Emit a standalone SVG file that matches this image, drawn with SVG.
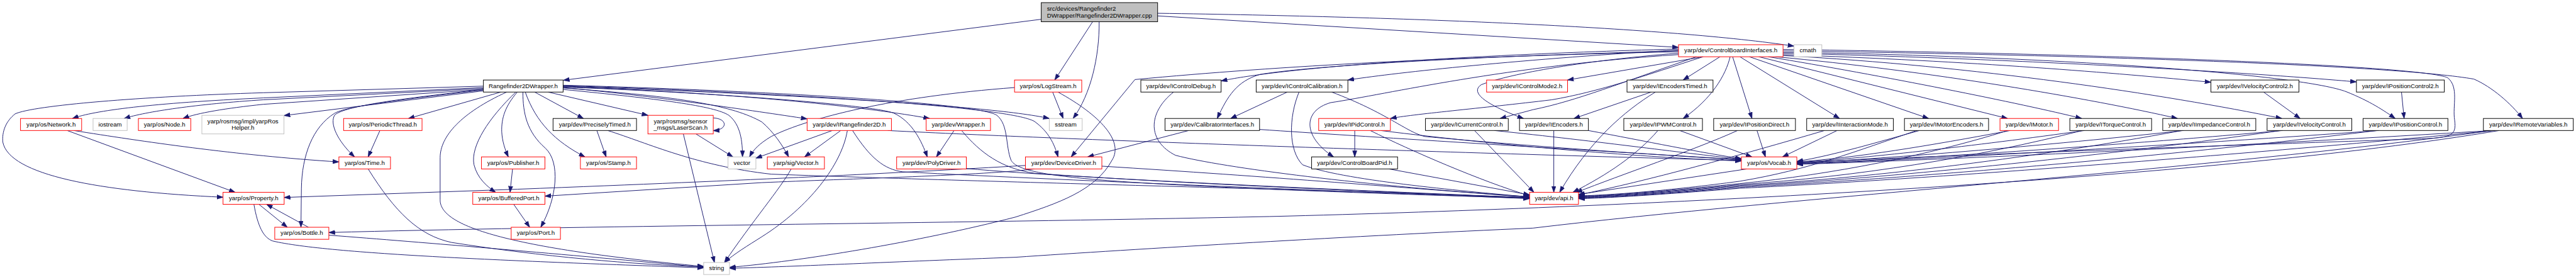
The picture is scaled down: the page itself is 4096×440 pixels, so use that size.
<svg xmlns="http://www.w3.org/2000/svg" width="4096" height="440" viewBox="0 0 4096 440">
<style>
.e path{fill:none;stroke:#191970;stroke-width:1.3;marker-end:url(#a)}
.n rect{fill:#fff;stroke-width:1.3}
.r rect{stroke:#ff0000}
.k rect{stroke:#000}
.g rect{stroke:#bfbfbf}
.s rect{fill:#bfbfbf;stroke:#000}
.s text{text-anchor:start}
text{font-family:"Liberation Sans",Arial,Helvetica,sans-serif;font-size:13px;text-anchor:middle;fill:#000}
</style>
<defs>
<marker id="a" viewBox="0 0 13 10" refX="13" refY="5" markerWidth="13" markerHeight="10" orient="auto" markerUnits="userSpaceOnUse">
<path d="M0,0.5 L13,5 L0,9.5 z" fill="#191970" stroke="#191970" stroke-width="1"/>
</marker>
</defs>
<rect width="4096" height="440" fill="#fff"/>
<g transform="scale(0.7477)">
<g id="connectors" class="e">
<path d="M2214,41 L1198,170.5"/>
<path d="M2323.6,46.2 L2243,170"/>
<path d="M2337.5,46.2 C2338,120 2320,200 2282,251.7"/>
<path d="M2461.8,33.8 L3569.6,100.7"/>
<path d="M2461.8,28.2 C3000,36 3550,58 3815,98"/>
<path d="M1028,183 L560,197 C300,205 70,224 32,242 C12,258 4,280 6,302 C20,372 210,407 474.3,419"/>
<path d="M1028,186 L560,208 C320,219 200,235 154,251.7"/>
<path d="M1028,188 L560,212 C420,221 310,237 264,251.7"/>
<path d="M1028,190 L560,221.6 C480,230 420,240 389,251.7"/>
<path d="M1028,193 L604,245.5"/>
<path d="M1028,190 C850,210 735,225 712,244 C700,262 718,300 754,333.3"/>
<path d="M1028,191 C850,212 735,226 711,241 C665,270 642,330 641,400 L640,482.8"/>
<path d="M1065,195.6 L868.6,251.7"/>
<path d="M1077.5,195.6 C980,240 936,290 936,335 L936,425 C936,475 1050,525 1496.4,566"/>
<path d="M1097,195.6 C1040,250 1000,310 1008,350 C1015,378 1035,396 1054,408.5"/>
<path d="M1100,195.6 C1075,225 1066,250 1067,280 C1068,300 1074,318 1081,333.3"/>
<path d="M1112,195.6 C1112,240 1120,280 1160,315 C1192,345 1185,420 1150,482.8"/>
<path d="M1117,195.6 C1140,260 1180,300 1244,333.3"/>
<path d="M1137,195.6 L1240.7,251.7"/>
<path d="M1165.7,195.6 L1378,245"/>
<path d="M1197.5,190 C1400,210 1520,225 1550,245 C1575,265 1579,300 1579,333.3"/>
<path d="M1197.5,187 C1450,205 1560,225 1620,259 C1645,280 1665,310 1677,333.3"/>
<path d="M1197.5,186 C1400,205 1600,235 1716.4,252.5"/>
<path d="M1197.5,184 C1500,195 1800,220 1977,251.7"/>
<path d="M1197.5,185 C1500,196 1850,222 1900,240 C1940,258 1960,300 1972,333.3"/>
<path d="M1197.5,183 C1600,198 2100,222 2231.4,251.7"/>
<path d="M1197.5,182 C1700,198 2150,228 2200,258 C2230,280 2242,305 2250,333.3"/>
<path d="M1197.5,181 C1700,195 2090,222 2120,245 C2145,265 2138,310 2150,340 C2165,372 2300,385 2700,402 C2950,412 3150,418 3252.9,421"/>
<path d="M2238.6,195.6 L2261,251.7"/>
<path d="M2250,195.6 C2340,245 2390,300 2365,340 C2330,405 2250,432 2160,461 C1950,515 1700,555 1551.4,568"/>
<path d="M2157.5,186 C1900,205 1720,250 1640,290 C1615,305 1602,318 1594,333.3"/>
<path d="M1770,277.3 L1607.5,336"/>
<path d="M1787.9,277.3 L1711,333.3"/>
<path d="M1802,277.3 C1790,350 1720,440 1620,503 C1590,522 1560,540 1541,557.6"/>
<path d="M1813,277.3 C1850,335 1880,360 1920,365 C2300,385 2900,408 3252.9,422"/>
<path d="M1887.9,277.3 C2300,298 3000,322 3703.2,341"/>
<path d="M2028.9,277.3 L1991.4,333.3"/>
<path d="M2045,277.3 C2085,325 2130,358 2200,368 C2500,390 3000,410 3252.9,421"/>
<path d="M2055,358 C2300,380 2900,405 3252.9,420"/>
<path d="M2180.7,351.5 C1900,368 1620,382 1100,402 L604.3,419.5"/>
<path d="M2200,358.9 C2100,372 1800,380 1620,388 L1158.9,416.7"/>
<path d="M2343.2,353 C2700,375 3000,400 3252.9,419"/>
<path d="M2527.9,277.3 L2313,333.3"/>
<path d="M2678.6,275 C2900,290 3300,315 3703.2,339"/>
<path d="M2495.7,195.6 C2440,240 2440,300 2500,330 C2600,356 2900,395 3252.9,418"/>
<path d="M2737.5,195.6 L2617,251.7"/>
<path d="M2762.5,195.6 C2740,250 2740,320 2770,350 C2850,382 3100,405 3252.9,418.5"/>
<path d="M2832,195.6 C2950,240 2990,280 3030,290 C3300,315 3550,330 3703.2,340"/>
<path d="M2881,277.3 L2881,333.3"/>
<path d="M2914,277.3 C3000,320 3150,385 3252.9,416"/>
<path d="M2936,277.3 C3200,310 3500,335 3703.2,342"/>
<path d="M2953.6,358.9 L3252.9,414"/>
<path d="M3135.7,277.3 L3262,408.5"/>
<path d="M3178,277.3 C3400,300 3600,328 3703.2,338"/>
<path d="M3511.4,195.6 L3347,251.7"/>
<path d="M3520.4,195.6 C3454,236 3380,300 3316.8,408.5"/>
<path d="M3304.3,277.3 L3304.3,408.5"/>
<path d="M3377.9,277.3 C3500,300 3620,325 3703.2,337"/>
<path d="M3525.7,277.3 C3480,330 3420,370 3345,408.5"/>
<path d="M3572,277.3 L3725.7,333.3"/>
<path d="M3695,277.3 C3600,320 3450,370 3352,409"/>
<path d="M3736.4,277.3 L3754.3,333.3"/>
<path d="M3715,358.9 L3357,413"/>
<path d="M3906.8,277.3 L3790.7,333.3"/>
<path d="M3880,277.3 C3700,330 3500,385 3357,414"/>
<path d="M4081.8,277.3 C4000,300 3900,330 3821.1,343"/>
<path d="M4076,277.3 C3950,320 3850,360 3700,385 C3550,405 3420,415 3356.8,416"/>
<path d="M4275,277.3 C4100,310 3950,335 3821.1,344"/>
<path d="M4270,277.3 C4100,330 3900,370 3700,390 C3550,405 3420,416 3356.8,417"/>
<path d="M4432.8,277.3 C4200,310 3950,338 3821.1,345"/>
<path d="M4428,277.3 C4200,335 3950,375 3700,392 C3550,407 3420,417 3356.8,418"/>
<path d="M4643.7,277.3 C4300,315 3950,341 3821.1,346"/>
<path d="M4640,277.3 C4300,340 3950,380 3700,394 C3550,408 3420,418 3356.8,419"/>
<path d="M4854.5,277.3 C4400,318 3950,344 3821.1,347"/>
<path d="M4850,277.3 C4400,342 3950,382 3700,396 C3550,410 3420,419 3356.8,420"/>
<path d="M5059,277.3 C4500,318 3950,345 3821.1,348"/>
<path d="M5055,277.3 C4500,345 3950,385 3700,398 C3550,411 3420,420 3356.8,421"/>
<path d="M5300,277.3 C4600,320 3950,346 3821.1,349"/>
<path d="M5305,277.3 C4600,345 3950,388 3700,400 C3550,412 3420,421 3356.8,422"/>
<path d="M5314.8,277.3 C4700,380 3500,440 2700,460 C2000,475 1200,480 699.3,494"/>
<path d="M5300,277.3 C4700,360 3800,420 3260,484.6 C2900,500 2400,530 2160,546.5 C1900,556 1700,566 1551.4,570"/>
<path d="M4813.8,195.6 L4891.5,251.7"/>
<path d="M5107,195.6 L5112.6,251.7"/>
<path d="M142.9,277.3 L500,408.5"/>
<path d="M157,277.3 C300,300 500,330 720.7,344"/>
<path d="M807.9,277.3 L782.9,333.3"/>
<path d="M782.9,358.9 C840,450 890,500 960,515 C1150,545 1350,562 1496.4,567"/>
<path d="M1090,358.9 L1084.6,408.5"/>
<path d="M1092.5,434.1 L1126.4,482.8"/>
<path d="M550.7,434.1 L611,482.8"/>
<path d="M656,482.8 L566.8,434.1"/>
<path d="M540,434.1 C548,480 560,505 580,512 C700,540 1100,555 1496.4,569"/>
<path d="M699.3,499.6 C900,515 1200,540 1496.4,568"/>
<path d="M1269.3,277.3 L1289,333.3"/>
<path d="M1292.5,277.3 C1380,305 1480,352 1640,370 C2200,390 2900,405 3252.9,420"/>
<path d="M1480,284.5 L1558.6,333.3"/>
<path d="M1453.2,284.5 L1519.3,557.6"/>
<path d="M1516.8,250.5 C1548,252 1548,276 1516.8,277.5"/>
<path d="M1682.5,358.9 C1660,400 1600,470 1540.7,557.6"/>
<path d="M3569.6,104 C3000,120 2700,150 2596.8,172"/>
<path d="M3569.6,106 C3200,128 2950,157 2866.4,170"/>
<path d="M3569.6,108 C3000,124 2760,145 2680,158 C2630,172 2610,205 2588.6,251.7"/>
<path d="M3569.6,110 C3100,120 2720,140 2413.6,169 L2277.9,333.3"/>
<path d="M3622,120.5 L3333.6,170"/>
<path d="M3622,120.5 C3500,160 3400,195 3300,212 C3150,230 3000,243 2956.8,251.7"/>
<path d="M3608,120.5 C3450,175 3350,215 3260,233 L3190,251.7"/>
<path d="M3569.6,113 C3350,130 3200,160 3150,180 C3120,200 3180,230 3240,251.7"/>
<path d="M3569.6,116 C3200,140 2950,200 2830,218 C2770,235 2770,290 2836,333.3"/>
<path d="M3657.9,120.5 L3579.3,170"/>
<path d="M3679.3,120.5 C3670,160 3640,210 3579.3,251.7"/>
<path d="M3684.6,120.5 L3725.7,251.7"/>
<path d="M3700,120.5 L3912,251.7"/>
<path d="M3720,120.5 L4101.4,251.7"/>
<path d="M3740,120.5 L4269.3,251.7"/>
<path d="M3760,120.5 C4000,160 4300,220 4427,251.7"/>
<path d="M3775,120.5 C4100,150 4450,210 4630.7,251.7"/>
<path d="M3791.8,118 C4200,140 4600,200 4852.7,251.7"/>
<path d="M3791.8,116 C4200,130 4500,155 4701.7,174.7"/>
<path d="M3791.8,113 C4300,125 4800,155 5011.2,174"/>
<path d="M3791.8,111 C4400,120 4900,160 4990,195 C5040,215 5070,235 5093.6,251.7"/>
<path d="M3791.8,108 C4500,118 5100,140 5261,168 C5300,185 5340,220 5364.4,251.7"/>
<path d="M3791.8,105 C4500,115 5150,140 5205,165 C5230,185 5215,225 5220,255 C5225,290 5210,292 5150,295 C4700,310 4000,335 3821.1,346"/>
</g>
<g id="n_src" class="n s"><rect x="2214.3" y="5.6" width="247.5" height="40.6"/><text x="2226.4" y="23">src/devices/Rangefinder2</text><text x="2226.4" y="37">DWrapper/Rangefinder2DWrapper.cpp</text></g>
<g id="n_r2w" class="n k"><rect x="1028" y="170" width="169.5" height="25.6"/><text x="1112.75" y="186.6">Rangefinder2DWrapper.h</text></g>
<g id="n_cbi" class="n r"><rect x="3569.6" y="95" width="222.2" height="25.6"/><text x="3680.7" y="111.6">yarp/dev/ControlBoardInterfaces.h</text></g>
<g id="n_cmath" class="n g"><rect x="3815" y="95" width="59.3" height="25.6"/><text x="3844.65" y="111.6">cmath</text></g>
<g id="n_logstream" class="n r"><rect x="2157.5" y="170" width="142.9" height="25.6"/><text x="2228.95" y="186.6">yarp/os/LogStream.h</text></g>
<g id="n_ictrldebug" class="n k"><rect x="2426.1" y="170" width="170.7" height="25.6"/><text x="2511.45" y="186.6">yarp/dev/IControlDebug.h</text></g>
<g id="n_ictrlcalib" class="n k"><rect x="2671.4" y="170" width="195" height="25.6"/><text x="2768.9" y="186.6">yarp/dev/IControlCalibration.h</text></g>
<g id="n_ictrlmode2" class="n r"><rect x="3161.4" y="170" width="172.2" height="25.6"/><text x="3247.5" y="186.6">yarp/dev/IControlMode2.h</text></g>
<g id="n_ienctimed" class="n k"><rect x="3460" y="170" width="182.9" height="25.6"/><text x="3551.45" y="186.6">yarp/dev/IEncodersTimed.h</text></g>
<g id="n_ivel2" class="n k"><rect x="4701.7" y="170" width="187.2" height="25.6"/><text x="4795.3" y="186.6">yarp/dev/IVelocityControl2.h</text></g>
<g id="n_ipos2" class="n k"><rect x="5011.2" y="170" width="186.9" height="25.6"/><text x="5104.65" y="186.6">yarp/dev/IPositionControl2.h</text></g>
<g id="n_network" class="n r"><rect x="43.6" y="251.7" width="130" height="25.6"/><text x="108.6" y="268.3">yarp/os/Network.h</text></g>
<g id="n_iostream" class="n g"><rect x="197.9" y="251.7" width="72.5" height="25.6"/><text x="234.15" y="268.3">iostream</text></g>
<g id="n_node" class="n r"><rect x="294.3" y="251.7" width="111.4" height="25.6"/><text x="350" y="268.3">yarp/os/Node.h</text></g>
<g id="n_roshelper" class="n g"><rect x="429.3" y="245" width="174.6" height="39.5"/><text x="516.6" y="261.8">yarp/rosmsg/impl/yarpRos</text><text x="516.6" y="275.8">Helper.h</text></g>
<g id="n_periodicthread" class="n r"><rect x="730.7" y="251.7" width="166.8" height="25.6"/><text x="814.1" y="268.3">yarp/os/PeriodicThread.h</text></g>
<g id="n_preciselytimed" class="n k"><rect x="1176.1" y="251.7" width="177.5" height="25.6"/><text x="1264.85" y="268.3">yarp/dev/PreciselyTimed.h</text></g>
<g id="n_laserscan" class="n r"><rect x="1377.9" y="245" width="138.9" height="39.5"/><text x="1447.35" y="261.8">yarp/rosmsg/sensor</text><text x="1447.35" y="275.8">_msgs/LaserScan.h</text></g>
<g id="n_irangefinder2d" class="n r"><rect x="1716.4" y="251.7" width="179.3" height="25.6"/><text x="1806.05" y="268.3">yarp/dev/IRangefinder2D.h</text></g>
<g id="n_wrapper" class="n r"><rect x="1969.6" y="251.7" width="136.8" height="25.6"/><text x="2038" y="268.3">yarp/dev/Wrapper.h</text></g>
<g id="n_sstream" class="n g"><rect x="2231.4" y="251.7" width="70" height="25.6"/><text x="2266.4" y="268.3">sstream</text></g>
<g id="n_calibif" class="n k"><rect x="2477.5" y="251.7" width="201.1" height="25.6"/><text x="2578.05" y="268.3">yarp/dev/CalibratorInterfaces.h</text></g>
<g id="n_ipid" class="n r"><rect x="2804.3" y="251.7" width="152.5" height="25.6"/><text x="2880.55" y="268.3">yarp/dev/IPidControl.h</text></g>
<g id="n_icurrent" class="n k"><rect x="3031.4" y="251.7" width="176.1" height="25.6"/><text x="3119.45" y="268.3">yarp/dev/ICurrentControl.h</text></g>
<g id="n_iencoders" class="n k"><rect x="3231.4" y="251.7" width="146.5" height="25.6"/><text x="3304.65" y="268.3">yarp/dev/IEncoders.h</text></g>
<g id="n_ipwm" class="n k"><rect x="3453.2" y="251.7" width="167.2" height="25.6"/><text x="3536.8" y="268.3">yarp/dev/IPWMControl.h</text></g>
<g id="n_iposdirect" class="n k"><rect x="3644.3" y="251.7" width="173.9" height="25.6"/><text x="3731.25" y="268.3">yarp/dev/IPositionDirect.h</text></g>
<g id="n_iinteraction" class="n k"><rect x="3842.1" y="251.7" width="184.3" height="25.6"/><text x="3934.25" y="268.3">yarp/dev/IInteractionMode.h</text></g>
<g id="n_imotorenc" class="n k"><rect x="4050" y="251.7" width="178.9" height="25.6"/><text x="4139.45" y="268.3">yarp/dev/IMotorEncoders.h</text></g>
<g id="n_imotor" class="n r"><rect x="4253.2" y="251.7" width="124.5" height="25.6"/><text x="4315.45" y="268.3">yarp/dev/IMotor.h</text></g>
<g id="n_itorque" class="n k"><rect x="4401.7" y="251.7" width="173.9" height="25.6"/><text x="4488.65" y="268.3">yarp/dev/ITorqueControl.h</text></g>
<g id="n_iimpedance" class="n k"><rect x="4599.3" y="251.7" width="197.9" height="25.6"/><text x="4698.25" y="268.3">yarp/dev/IImpedanceControl.h</text></g>
<g id="n_ivel" class="n k"><rect x="4821.2" y="251.7" width="180.1" height="25.6"/><text x="4911.25" y="268.3">yarp/dev/IVelocityControl.h</text></g>
<g id="n_ipos" class="n k"><rect x="5025.3" y="251.7" width="180.4" height="25.6"/><text x="5115.5" y="268.3">yarp/dev/IPositionControl.h</text></g>
<g id="n_iremote" class="n k"><rect x="5281.2" y="251.7" width="191.1" height="25.6"/><text x="5376.75" y="268.3">yarp/dev/IRemoteVariables.h</text></g>
<g id="n_time" class="n r"><rect x="720.7" y="333.3" width="109.7" height="25.6"/><text x="775.55" y="349.9">yarp/os/Time.h</text></g>
<g id="n_publisher" class="n r"><rect x="1023.9" y="333.3" width="135" height="25.6"/><text x="1091.4" y="349.9">yarp/os/Publisher.h</text></g>
<g id="n_stamp" class="n r"><rect x="1234.3" y="333.3" width="119.3" height="25.6"/><text x="1293.95" y="349.9">yarp/os/Stamp.h</text></g>
<g id="n_vector" class="n g"><rect x="1548.2" y="333.3" width="59.3" height="25.6"/><text x="1577.85" y="349.9">vector</text></g>
<g id="n_sigvector" class="n r"><rect x="1631.8" y="333.3" width="121.4" height="25.6"/><text x="1692.5" y="349.9">yarp/sig/Vector.h</text></g>
<g id="n_polydriver" class="n r"><rect x="1906.8" y="333.3" width="148.2" height="25.6"/><text x="1980.9" y="349.9">yarp/dev/PolyDriver.h</text></g>
<g id="n_devicedriver" class="n r"><rect x="2180.7" y="333.3" width="162.5" height="25.6"/><text x="2261.95" y="349.9">yarp/dev/DeviceDriver.h</text></g>
<g id="n_cbpid" class="n k"><rect x="2789.3" y="333.3" width="182.8" height="25.6"/><text x="2880.7" y="349.9">yarp/dev/ControlBoardPid.h</text></g>
<g id="n_vocab" class="n r"><rect x="3703.2" y="333.3" width="117.9" height="25.6"/><text x="3762.15" y="349.9">yarp/os/Vocab.h</text></g>
<g id="n_property" class="n r"><rect x="474.3" y="408.5" width="130" height="25.6"/><text x="539.3" y="425.1">yarp/os/Property.h</text></g>
<g id="n_bufferedport" class="n r"><rect x="1005.4" y="408.5" width="153.5" height="25.6"/><text x="1082.15" y="425.1">yarp/os/BufferedPort.h</text></g>
<g id="n_api" class="n r"><rect x="3252.9" y="408.5" width="103.9" height="25.6"/><text x="3304.85" y="425.1">yarp/dev/api.h</text></g>
<g id="n_bottle" class="n r"><rect x="584.3" y="482.8" width="115" height="25.6"/><text x="641.8" y="499.4">yarp/os/Bottle.h</text></g>
<g id="n_port" class="n r"><rect x="1087.1" y="482.8" width="104.7" height="25.6"/><text x="1139.45" y="499.4">yarp/os/Port.h</text></g>
<g id="n_string" class="n g"><rect x="1496.4" y="557.6" width="55" height="25.6"/><text x="1523.9" y="574.2">string</text></g>
</g>
</svg>
